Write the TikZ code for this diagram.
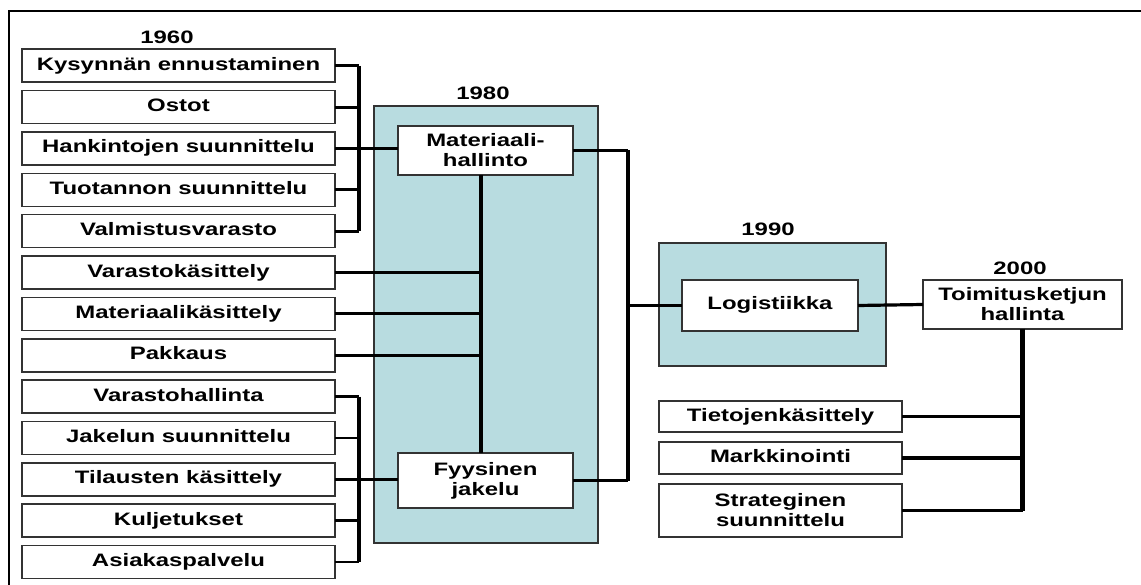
\documentclass[tikz,border=0pt]{standalone}
\usepackage{fontspec}
\setmainfont{Liberation Sans}[FakeStretch=1.33]
\usetikzlibrary{positioning}
\definecolor{panelblue}{HTML}{B8DCE0}
\definecolor{edgegray}{HTML}{333333}

\begin{document}
\begin{tikzpicture}[
    x=1pt, y=-1pt,
    font=\fontsize{18}{20}\selectfont\bfseries,
    node distance=8.35pt,
    box/.style={
      draw=edgegray,
      line width=1.6pt,
      fill=white,
      align=center,
      inner sep=2pt,
      outer sep=0pt
    },
    item/.style={
      box,
      minimum width=313pt,
      minimum height=33pt,
      text height=13pt,
      text depth=4pt
    },
    panel/.style={draw=edgegray, line width=1.6pt, fill=panelblue, inner sep=0pt, outer sep=0pt},
    year/.style={inner sep=0pt},
    tick/.style={line width=2.8pt},
    wire/.style={line width=3.2pt},
    bus/.style={line width=4.2pt}
  ]

  \useasboundingbox (0,0) rectangle (1141,585);

  % ===================== 外框 =====================
  \draw[line width=2.2pt] (9,600) -- (9,11) -- (1160,11);

  % ===================== 背景面板 =====================
  \node[panel, minimum width=224pt, minimum height=437pt] (p80) at (486,324.5) {};
  \node[panel, minimum width=227pt, minimum height=123pt] (p90) at (772.5,304.5) {};

  % ===================== 年份 =====================
  \node[year] (y60) at (167,37) {1960};
  \node[year] (y80) at (483,93) {1980};
  \node[year] (y90) at (768,229) {1990};
  \node[year] (y00) at (1020,268) {2000};

  % ===================== 左列 =====================
  \node[item] at (178.5,65.8) (kys) {Kysynnän ennustaminen};
  \node[item, below=of kys] (ost) {Ostot};
  \node[item, below=of ost] (han) {Hankintojen suunnittelu};
  \node[item, below=of han] (tuo) {Tuotannon suunnittelu};
  \node[item, below=of tuo] (val) {Valmistusvarasto};
  \node[item, below=of val] (vkas) {Varastokäsittely};
  \node[item, below=of vkas] (mkas) {Materiaalikäsittely};
  \node[item, below=of mkas] (pak) {Pakkaus};
  \node[item, below=of pak] (vhal) {Varastohallinta};
  \node[item, below=of vhal] (jak) {Jakelun suunnittelu};
  \node[item, below=of jak] (til) {Tilausten käsittely};
  \node[item, below=of til] (kul) {Kuljetukset};
  \node[item, below=of kul] (asi) {Asiakaspalvelu};

  % ===================== 中间 =====================
  \node[box, minimum width=175pt, minimum height=49pt] (mhal) at (485.5,150.5) {Materiaali-\\hallinto};
  \node[box, minimum width=175pt, minimum height=55pt] (fjak) at (485.5,480.5) {Fyysinen\\jakelu};
  \node[item, minimum width=176pt, minimum height=51pt] (logi) at (770,305.5) {Logistiikka};
  \node[box, minimum width=199pt, minimum height=49pt] (toim) at (1022.5,304.5) {Toimitusketjun\\hallinta};

  % ===================== 右列 =====================
  \node[item, minimum width=243pt, minimum height=31pt] (tiet) at (780.5,416.5) {Tietojenkäsittely};
  \node[item, minimum width=243pt, minimum height=32pt, below=10pt of tiet] (mark) {Markkinointi};
  \node[box, minimum width=243pt, minimum height=53pt, below=10pt of mark] (stra) {Strateginen\\suunnittelu};

  \coordinate (lbus) at (359,0);
  \coordinate (mline) at (481,0);
  \coordinate (rbus) at (628,0);

  % ===================== 上括号 =====================
  \draw[tick] (kys.east) -- (kys.east -| lbus);
  \draw[tick] (ost.east) -- (ost.east -| lbus);
  \draw[tick] (han.east) -- (han.east -| lbus);
  \draw[tick] (tuo.east) -- (tuo.east -| lbus);
  \draw[tick] (val.east) -- (val.east -| lbus);
  \draw[bus] (kys.east -| lbus) -- (val.east -| lbus);
  \draw[wire] (han.east -| lbus) -- (han.east -| mhal.west);

  % ===================== 中间竖线 =====================
  \draw[wire] (mline |- mhal.south) -- (mline |- fjak.north);
  \draw[wire] (vkas.east) -- (vkas.east -| mline);
  \draw[wire] (mkas.east) -- (mkas.east -| mline);
  \draw[wire] (pak.east) -- (pak.east -| mline);

  % ===================== 下括号 =====================
  \draw[tick] (vhal.east) -- (vhal.east -| lbus);
  \draw[tick] (jak.east) -- (jak.east -| lbus);
  \draw[tick] (til.east) -- (til.east -| lbus);
  \draw[tick] (kul.east) -- (kul.east -| lbus);
  \draw[tick] (asi.east) -- (asi.east -| lbus);
  \draw[bus] (vhal.east -| lbus) -- (asi.east -| lbus);
  \draw[wire] (til.east -| lbus) -- (til.east -| fjak.west);

  % ===================== 右括号 =====================
  \draw[wire] (mhal.east) -- (mhal.east -| rbus);
  \draw[wire] (fjak.east) -- (fjak.east -| rbus);
  \draw[bus] (mhal.east -| rbus) -- (fjak.east -| rbus);
  \draw[wire] (rbus |- logi.west) -- (logi.west);
  \draw[wire] (logi.east) -- (toim.west);

  % ===================== 2000 分支 =====================
  \draw[bus] (toim.south) -- (toim.south |- stra.east);
  \draw[wire] (tiet.east) -- (tiet.east -| toim.south);
  \draw[wire] (mark.east) -- (mark.east -| toim.south);
  \draw[wire] (stra.east) -- (stra.east -| toim.south);

\end{tikzpicture}
\end{document}
